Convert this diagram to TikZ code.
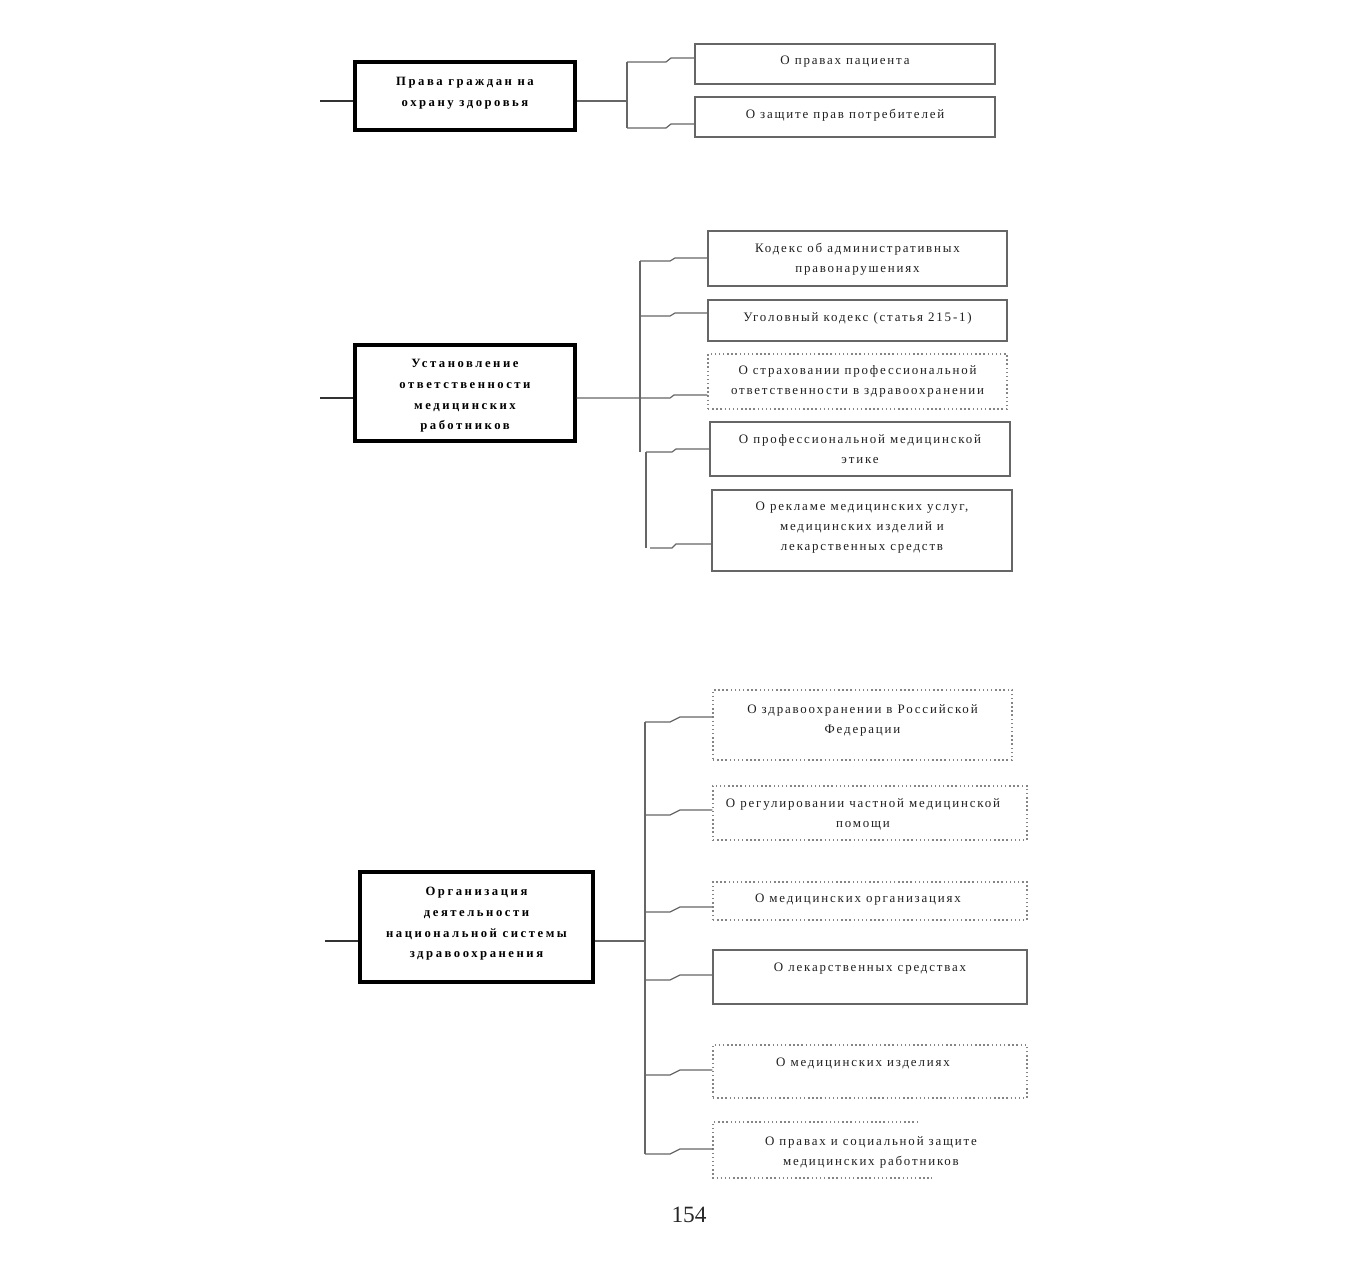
\documentclass[tikz,border=0pt]{standalone}
\usepackage{fontspec}
\setmainfont{Liberation Serif}
\newfontfamily\parfont{Liberation Serif}[LetterSpace=20]
\newfontfamily\chfont{Liberation Serif}[LetterSpace=14]
\usetikzlibrary{positioning}
\definecolor{linegray}{HTML}{666666}
\definecolor{dotgray}{HTML}{858585}
\definecolor{txtgray}{HTML}{1E1E1E}
\tikzset{
  pbox/.style={draw=black, line width=2.3pt, inner sep=0pt},
  cbox/.style={draw=linegray, line width=1.1pt, inner sep=0pt},
  dbox/.style={draw=dotgray, line width=1.1pt, dotted, inner sep=0pt},
  ptext/.style={font=\parfont\bfseries\fontsize{9.5}{15.5}\selectfont, align=center, text=black, inner sep=0pt},
  ctext/.style={font=\chfont\fontsize{9.7}{15}\selectfont, align=center, text=txtgray, inner sep=0pt},
  conn/.style={draw=linegray, line width=0.9pt},
  stub/.style={draw=black!80, line width=1.2pt},
}
\begin{document}
\begin{tikzpicture}[x=0.75pt,y=-0.75pt]
\useasboundingbox (0,0) rectangle (1350,1267);

% ===== Section 1 =====
\node[pbox, minimum width=220*0.75pt, minimum height=68*0.75pt] (p1) at (465,96) {};
\node[ptext] (p1t) at (465,93) {Права граждан на\\охрану здоровья};
\coordinate (s1) at (320,101);
\draw[stub] (s1) -- (p1.west |- s1);

\node[cbox, minimum width=300*0.75pt, minimum height=40*0.75pt] (a1) at (845,64) {};
\node[ctext] at (845,62) {О правах пациента};
\node[cbox, minimum width=300*0.75pt, minimum height=40*0.75pt] (a2) at (845,117) {};
\node[ctext] at (845,115) {О защите прав потребителей};

\coordinate (t1) at (627,101);
\coordinate (t1a) at (627,62);
\coordinate (t1b) at (627,128);
\draw[conn] (p1.east |- t1) -- (t1);
\draw[conn] (t1a) -- (t1b);
\draw[conn] (t1a) -- (666,62) -- (671,58) -- (a1.west |- 0,58);
\draw[conn] (t1b) -- (666,128) -- (671,124) -- (a2.west |- 0,124);

% ===== Section 2 =====
\node[pbox, minimum width=220*0.75pt, minimum height=96*0.75pt] (p2) at (465,393) {};
\node[ptext] at (465,396) {Установление\\ответственности\\медицинских\\работников};
\coordinate (s2) at (320,398);
\draw[stub] (s2) -- (p2.west |- s2);

\node[cbox, minimum width=299*0.75pt, minimum height=55*0.75pt] (b1) at (857.5,258.5) {};
\node[ctext] at (857.5,259) {Кодекс об административных\\правонарушениях};
\node[cbox, minimum width=299*0.75pt, minimum height=41*0.75pt] (b2) at (857.5,320.5) {};
\node[ctext] at (857.5,318) {Уголовный кодекс (статья 215-1)};
\node[dbox, minimum width=299*0.75pt, minimum height=55*0.75pt] (b3) at (857.5,381.5) {};
\node[ctext] at (857.5,381.5) {О страховании профессиональной\\ответственности в здравоохранении};
\node[cbox, minimum width=300*0.75pt, minimum height=54*0.75pt] (b4) at (860,449) {};
\node[ctext] at (860,449.5) {О профессиональной медицинской\\этике};
\node[cbox, minimum width=300*0.75pt, minimum height=81*0.75pt] (b5) at (862,530.5) {};
\node[ctext] at (862,527.5) {О рекламе медицинских услуг,\\медицинских изделий и\\лекарственных средств};

\coordinate (t2) at (670,398);
\coordinate (t2a) at (640,261);
\coordinate (t2b) at (640,452);
\coordinate (t2c) at (646,452);
\coordinate (t2d) at (646,548);
\draw[conn] (p2.east |- t2) -- (t2) -- (674,395) -- (b3.west |- 0,395);
\draw[conn] (t2a) -- (t2b);
\draw[conn] (t2c) -- (t2d);
\draw[conn] (t2a) -- (670,261) -- (675,258) -- (b1.west |- 0,258);
\draw[conn] (640,316) -- (670,316) -- (675,313) -- (b2.west |- 0,313);
\draw[conn] (t2c) -- (672,452) -- (676,449) -- (b4.west |- 0,449);
\draw[conn] (650,548) -- (672,548) -- (676,544) -- (b5.west |- 0,544);

% ===== Section 3 =====
\node[pbox, minimum width=233*0.75pt, minimum height=110*0.75pt] (p3) at (476.5,927) {};
\node[ptext] at (476.5,924) {Организация\\деятельности\\национальной системы\\здравоохранения};
\coordinate (s3) at (325,941);
\draw[stub] (s3) -- (p3.west |- s3);

\node[dbox, minimum width=299*0.75pt, minimum height=70*0.75pt] (d1) at (862.5,725) {};
\node[ctext] at (862.5,720) {О здравоохранении в Российской\\Федерации};
\node[dbox, minimum width=314*0.75pt, minimum height=54*0.75pt] (d2) at (870,813) {};
\node[ctext] at (863,814) {О регулировании частной медицинской\\помощи};
\node[dbox, minimum width=314*0.75pt, minimum height=38*0.75pt] (d3) at (870,901) {};
\node[ctext] at (858,900) {О медицинских организациях};
\node[cbox, minimum width=314*0.75pt, minimum height=54*0.75pt] (d4) at (870,977) {};
\node[ctext] at (870,969) {О лекарственных средствах};
\node[dbox, minimum width=314*0.75pt, minimum height=53*0.75pt] (d5) at (870,1071.5) {};
\node[ctext] at (863,1063) {О медицинских изделиях};
% last box: printed open on the right
\coordinate (d6tl) at (713,1122);
\coordinate (d6tr) at (918,1122);
\coordinate (d6bl) at (713,1178);
\coordinate (d6br) at (932,1178);
\draw[draw=dotgray, line width=1.1pt, dotted] (d6tr) -- (d6tl) -- (d6bl) -- (d6br);
\node[ctext] (d6) at (871,1152) {О правах и социальной защите\\медицинских работников};

\coordinate (t3) at (645,941);
\coordinate (t3a) at (645,722);
\coordinate (t3b) at (645,1154);
\draw[conn] (p3.east |- t3) -- (t3);
\draw[conn, line width=1.2pt] (t3a) -- (t3b);
\draw[conn] (t3a) -- (670,722) -- (680,717) -- (d1.west |- 0,717);
\draw[conn] (645,815) -- (670,815) -- (680,810) -- (d2.west |- 0,810);
\draw[conn] (645,912) -- (670,912) -- (680,907) -- (d3.west |- 0,907);
\draw[conn] (645,980) -- (670,980) -- (680,975) -- (d4.west |- 0,975);
\draw[conn] (645,1075) -- (670,1075) -- (680,1070) -- (d5.west |- 0,1070);
\draw[conn] (t3b) -- (670,1154) -- (680,1149) -- (d6tl |- 0,1149);

% page number
\node[font=\fontsize{17.5}{20}\selectfont, text=black!85, inner sep=0pt] (pg) at (689,1215) {154};
\end{tikzpicture}
\end{document}
